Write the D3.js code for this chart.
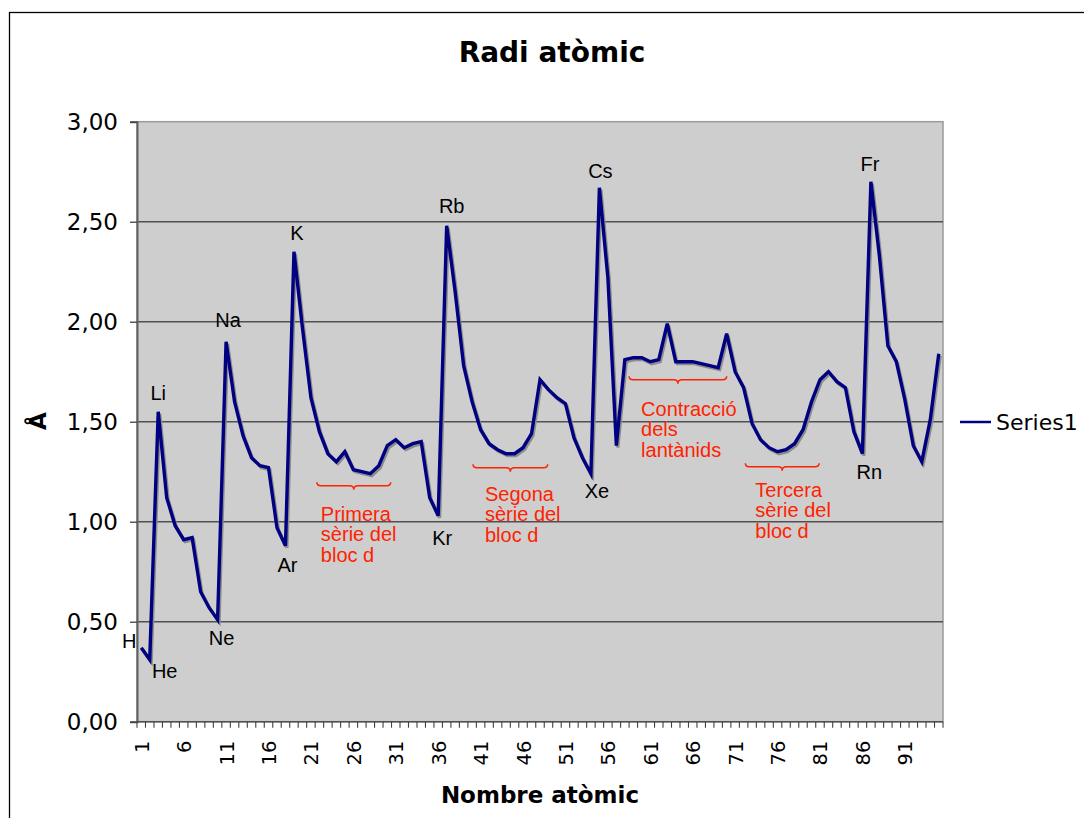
<!DOCTYPE html>
<html>
<head>
<meta charset="utf-8">
<script src="https://cdn.jsdelivr.net/npm/d3@7/dist/d3.min.js"></script>
<style>
  html, body { margin: 0; padding: 0; background: #ffffff; }
  svg { display: block; }
</style>
</head>
<body>
<svg id="chart" width="1084" height="818"></svg>
<script>
// Atomic numbers (categories on the x axis)
const atomicNumbers = [
  1, 2, 3, 4, 5, 6, 7, 8, 9, 10, 11, 12, 13, 14, 15, 16, 17, 18, 19, 20,
  21, 22, 23, 24, 25, 26, 27, 28, 29, 30, 31, 32, 33, 34, 35, 36, 37, 38, 39, 40,
  41, 42, 43, 44, 45, 46, 47, 48, 49, 50, 51, 52, 53, 54, 55, 56, 57, 58, 59, 60,
  61, 62, 63, 64, 65, 66, 67, 68, 69, 70, 71, 72, 73, 74, 75, 76, 77, 78, 79, 80,
  81, 82, 83, 84, 85, 86, 87, 88, 89, 90, 91, 92, 93, 94, 95
];

// Atomic radius in Å, H .. Am
const radii = [
  0.37, 0.31, 1.55, 1.12, 0.98, 0.91, 0.92, 0.65, 0.57, 0.51,
  1.90, 1.60, 1.43, 1.32, 1.28, 1.27, 0.97, 0.88,
  2.35, 1.97, 1.62, 1.45, 1.34, 1.30, 1.35, 1.26, 1.25, 1.24, 1.28, 1.38,
  1.41, 1.37, 1.39, 1.40, 1.12, 1.03,
  2.48, 2.15, 1.78, 1.60, 1.46, 1.39, 1.36, 1.34, 1.34, 1.37, 1.44, 1.71,
  1.66, 1.62, 1.59, 1.42, 1.32, 1.24,
  2.67, 2.22, 1.38, 1.81, 1.82, 1.82, 1.80, 1.81, 1.99, 1.80, 1.80, 1.80,
  1.79, 1.78, 1.77, 1.94, 1.75, 1.67, 1.49, 1.41, 1.37, 1.35, 1.36, 1.39,
  1.46, 1.60, 1.71, 1.75, 1.70, 1.67, 1.45, 1.34,
  2.70, 2.33, 1.88, 1.80, 1.61, 1.38, 1.30, 1.51, 1.84
];

// Axis tick labels
const xTickLabels = ["1", "6", "11", "16", "21", "26", "31", "36", "41", "46",
                     "51", "56", "61", "66", "71", "76", "81", "86", "91"];
const yTickValues = [0, 0.5, 1.0, 1.5, 2.0, 2.5, 3.0];

// Element symbols written next to the series
const labelSymbols = ["H", "He", "Li", "Ne", "Na", "Ar", "K", "Kr", "Rb", "Xe", "Cs", "Rn", "Fr"];
const labelNumbers = [1, 2, 3, 10, 11, 18, 19, 36, 37, 54, 55, 86, 87];

// Bracketed groups of elements (span along the atomic-number axis, and height in Å)
const groupTexts = [
  ["Primera", "sèrie del", "bloc d"],
  ["Segona", "sèrie del", "bloc d"],
  ["Contracció", "dels", "lantànids"],
  ["Tercera", "sèrie del", "bloc d"]
];
const groupFrom = [21.7, 40.1, 58.5, 72.2];
const groupTo = [30.4, 48.9, 70.0, 80.9];
const groupLevel = [1.18, 1.27, 1.71, 1.275];

const seriesName = "Series1";

// ---------------------------------------------------------------------------
const svg = d3.select("#chart");
const plot = { left: 137, right: 943, top: 121.7, bottom: 721.7 };
const navy = "#000080";

const x = d3.scaleBand()
  .domain(atomicNumbers)
  .range([plot.left, plot.right])
  .paddingInner(0).paddingOuter(0);
const bw = x.bandwidth();
const xc = n => x(n) + bw / 2;
// continuous position along the category axis (for brackets)
const xPos = d3.scaleLinear().domain([0.5, atomicNumbers.length + 0.5]).range([plot.left, plot.right]);

const y = d3.scaleLinear().domain([0, 3]).range([plot.bottom, plot.top]);

// outer frame
svg.append("rect")
  .attr("x", 9.5).attr("y", 12.5)
  .attr("width", 1200).attr("height", 900)
  .attr("fill", "none").attr("stroke", "#000").attr("stroke-width", 1.3);

// plot background
svg.append("rect")
  .attr("x", plot.left).attr("y", plot.top)
  .attr("width", plot.right - plot.left).attr("height", plot.bottom - plot.top)
  .attr("fill", "#cecece")
  .attr("stroke", "#9a9a9a").attr("stroke-width", 1.5);

// horizontal gridlines
svg.append("g")
  .selectAll("line")
  .data(yTickValues.filter(v => v > 0 && v < 3))
  .join("line")
  .attr("x1", plot.left).attr("x2", plot.right)
  .attr("y1", d => y(d)).attr("y2", d => y(d))
  .attr("stroke", "#505050").attr("stroke-width", 1.4);

// y axis
const fmt = v => d3.format(".2f")(v).replace(".", ",");
const yAxis = svg.append("g")
  .attr("transform", `translate(${plot.left},0)`)
  .call(d3.axisLeft(y).tickValues(yTickValues).tickFormat(fmt).tickSize(7).tickPadding(12));
yAxis.select(".domain").attr("stroke", "#606060").attr("stroke-width", 2);
yAxis.selectAll(".tick line").attr("stroke", "#404040").attr("stroke-width", 1.3);
yAxis.selectAll(".tick text")
  .attr("font-family", "'DejaVu Sans', Verdana, sans-serif")
  .attr("font-size", 23).attr("fill", "#000");

// x axis: tick marks at category boundaries, labels every fifth category
const xAxisG = svg.append("g");
xAxisG.append("line")
  .attr("x1", plot.left).attr("x2", plot.right)
  .attr("y1", plot.bottom).attr("y2", plot.bottom)
  .attr("stroke", "#505050").attr("stroke-width", 1.6);
xAxisG.selectAll("line.tk")
  .data(atomicNumbers.concat([null]))
  .join("line")
  .attr("class", "tk")
  .attr("x1", d => d === null ? plot.right : x(d))
  .attr("x2", d => d === null ? plot.right : x(d))
  .attr("y1", plot.bottom).attr("y2", plot.bottom + 6)
  .attr("stroke", "#404040").attr("stroke-width", 1.1);
xAxisG.selectAll("text")
  .data(xTickLabels)
  .join("text")
  .attr("transform", d => `translate(${xc(+d) + 1},${plot.bottom + 19}) rotate(-90)`)
  .attr("text-anchor", "end")
  .attr("dominant-baseline", "central")
  .attr("font-family", "'DejaVu Sans', Verdana, sans-serif")
  .attr("font-size", 19.5)
  .attr("fill", "#000")
  .text(d => d);

// series line with a soft drop shadow
const pts = atomicNumbers.map((n, i) => [n, radii[i]]);
const line = d3.line().x(d => xc(d[0])).y(d => y(d[1]));
svg.append("path")
  .datum(pts)
  .attr("d", line)
  .attr("transform", "translate(1.5,2)")
  .attr("fill", "none")
  .attr("stroke", "#8c8c8c")
  .attr("stroke-width", 3.2)
  .attr("stroke-linejoin", "miter");
svg.append("path")
  .datum(pts)
  .attr("d", line)
  .attr("fill", "none")
  .attr("stroke", navy)
  .attr("stroke-width", 3.4)
  .attr("stroke-linejoin", "miter");

// element labels (offsets around each marked point)
const labelOffsets = {
  H: [-12, -7], He: [15, 11], Li: [0, -19], Ne: [4, 18], Na: [2, -22],
  Ar: [2, 19], K: [3, -19], Kr: [4, 22], Rb: [5, -20], Xe: [6, 17],
  Cs: [1, -17], Rn: [7, 18], Fr: [-1, -18]
};
svg.append("g")
  .selectAll("text")
  .data(labelSymbols.map((s, i) => ({ s, n: labelNumbers[i] })))
  .join("text")
  .attr("x", d => xc(d.n) + labelOffsets[d.s][0])
  .attr("y", d => y(radii[atomicNumbers.indexOf(d.n)]) + labelOffsets[d.s][1])
  .attr("text-anchor", "middle")
  .attr("dominant-baseline", "central")
  .attr("font-family", "'Liberation Sans', Arial, Helvetica, sans-serif")
  .attr("font-size", 20)
  .attr("fill", "#000")
  .text(d => d.s);

// bracketed groups
const red = "#ff2200";
const textShift = [[4, 28], [12, 26], [12, 29], [10, 23]];
function bracePath(x0, x1, yy) {
  const xm = (x0 + x1) / 2;
  return `M${x0},${yy - 3.5} Q${x0},${yy} ${x0 + 4},${yy}` +
         ` L${xm - 4},${yy} Q${xm},${yy} ${xm},${yy + 4}` +
         ` Q${xm},${yy} ${xm + 4},${yy} L${x1 - 4},${yy}` +
         ` Q${x1},${yy} ${x1},${yy - 3.5}`;
}
const groups = svg.append("g");
groupTexts.forEach((lines, i) => {
  const x0 = xPos(groupFrom[i]);
  const x1 = xPos(groupTo[i]);
  const yy = y(groupLevel[i]);
  groups.append("path")
    .attr("d", bracePath(x0, x1, yy))
    .attr("fill", "none")
    .attr("stroke", red)
    .attr("stroke-width", 1.5);
  const t = groups.append("text")
    .attr("font-family", "'Liberation Sans', Arial, Helvetica, sans-serif")
    .attr("font-size", 20)
    .attr("fill", red)
    .attr("dominant-baseline", "central");
  lines.forEach((ln, k) => {
    t.append("tspan")
      .attr("x", x0 + textShift[i][0])
      .attr("y", yy + textShift[i][1] + k * 20.5)
      .text(ln);
  });
});

// title
svg.append("text")
  .attr("x", 552).attr("y", 52)
  .attr("text-anchor", "middle").attr("dominant-baseline", "central")
  .attr("font-family", "'DejaVu Sans', Verdana, sans-serif")
  .attr("font-weight", "bold").attr("font-size", 28)
  .text("Radi atòmic");

// axis titles
svg.append("text")
  .attr("x", 540).attr("y", 795)
  .attr("text-anchor", "middle").attr("dominant-baseline", "central")
  .attr("font-family", "'DejaVu Sans', Verdana, sans-serif")
  .attr("font-weight", "bold").attr("font-size", 23)
  .text("Nombre atòmic");
svg.append("text")
  .attr("transform", "translate(38,421) rotate(-90)")
  .attr("text-anchor", "middle").attr("dominant-baseline", "central")
  .attr("font-family", "'DejaVu Sans', Verdana, sans-serif")
  .attr("font-weight", "bold").attr("font-size", 23)
  .text("Å");

// legend
const lg = svg.append("g").attr("transform", "translate(960,422)");
lg.append("line").attr("x1", 0).attr("x2", 31).attr("y1", 0).attr("y2", 0)
  .attr("stroke", navy).attr("stroke-width", 2.5);
lg.append("text")
  .attr("x", 36).attr("y", 0)
  .attr("dominant-baseline", "central")
  .attr("font-family", "'DejaVu Sans', Verdana, sans-serif")
  .attr("font-size", 22)
  .text(seriesName);
</script>
</body>
</html>
